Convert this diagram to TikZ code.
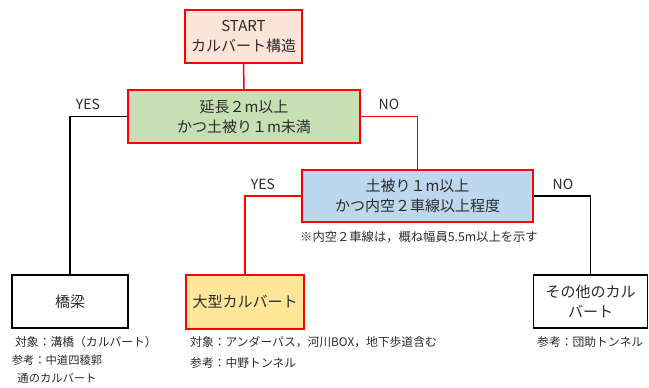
\documentclass[tikz,border=0pt]{standalone}
\usepackage{fontspec}
\setmainfont{Noto Sans CJK JP}
\usetikzlibrary{positioning}
\definecolor{txt}{HTML}{2B2B2B}
\definecolor{redline}{HTML}{FF0000}
\definecolor{startfill}{HTML}{FCE4D6}
\definecolor{greenfill}{HTML}{C6E0B4}
\definecolor{bluefill}{HTML}{BDD7EE}
\definecolor{yellowfill}{HTML}{FFE699}
\tikzset{
  boxbase/.style={rectangle, inner sep=1pt, align=center, text=txt,
    font=\fontsize{15}{20}\selectfont},
  redbox/.style={boxbase, draw=redline, line width=2.2pt},
  blackbox/.style={boxbase, draw=black, line width=1.8pt},
  redconn/.style={draw=redline, line width=1.5pt},
  blackconn/.style={draw=black, line width=1.5pt},
  yn/.style={text=txt, inner sep=0pt, font=\fontsize{14}{16}\selectfont},
  captxt/.style={text=txt, inner sep=0pt, anchor=west, font=\fontsize{11.8}{19}\selectfont},
}
\begin{document}
\begin{tikzpicture}[x=1pt,y=-1pt]
\useasboundingbox (0,0) rectangle (649,388);
\node[redbox, fill=startfill, minimum width=117pt, minimum height=53pt] (start) at (243.5,36.5) {START\\カルバート構造};
\node[redbox, fill=greenfill, minimum width=232pt, minimum height=53pt] (q1) at (244,116.5) {延長２m以上\\かつ土被り１m未満};
\node[redbox, fill=bluefill, minimum width=231pt, minimum height=52pt] (q2) at (417.5,196) {土被り１m以上\\かつ内空２車線以上程度};
\node[blackbox, fill=white, minimum width=116pt, minimum height=53pt] (bridge) at (70,301.5) {橋梁};
\node[redbox, fill=yellowfill, minimum width=118pt, minimum height=54pt] (large) at (245,302) {大型カルバート};
\node[blackbox, fill=white, minimum width=114pt, minimum height=53pt] (other) at (590.5,301.5) {その他のカル\\バート};

\draw[redconn] (start.south) -- (q1.north);
\draw[blackconn] (q1.west) -| (bridge.north);
\draw[redconn] (q1.east) -| (q2.north);
\draw[redconn] (q2.west) -| (large.north);
\draw[blackconn] (q2.east) -| (other.north);

\node[yn] (yes1) at (88,104) {YES};
\node[yn] (no1) at (389,104) {NO};
\node[yn] (yes2) at (263,184) {YES};
\node[yn] (no2) at (563,184) {NO};

\node[captxt, font=\fontsize{12.3}{18}\selectfont] (note) at (300,237) {※内空２車線は，概ね幅員5.5m以上を示す};
\node[captxt] (cap1) at (15,342) {対象：溝橋（カルバート）};
\node[captxt, align=center, anchor=center, font=\fontsize{11.3}{18}\selectfont] (cap2) at (57,369) {参考：中道四稜郭\\通のカルバート};
\node[captxt] (cap3) at (190,342) {対象：アンダーパス，河川BOX，地下歩道含む};
\node[captxt] (cap4) at (190,363) {参考：中野トンネル};
\node[captxt] (cap5) at (537,342) {参考：団助トンネル};
\end{tikzpicture}
\end{document}
